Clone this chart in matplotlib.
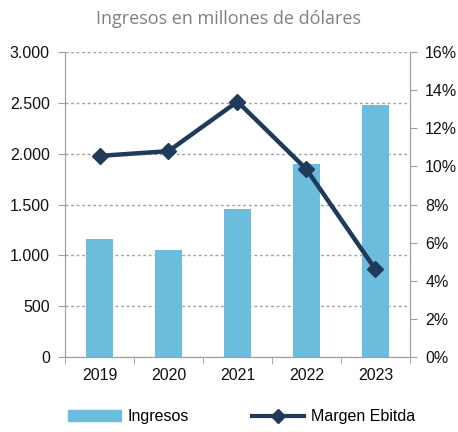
import matplotlib
matplotlib.use("Agg")
import matplotlib.pyplot as plt
from matplotlib.ticker import FuncFormatter, MultipleLocator
from matplotlib.patches import Patch
from matplotlib.lines import Line2D

years = ["2019", "2020", "2021", "2022", "2023"]
ingresos = [1160, 1052, 1455, 1895, 2475]
margen = [10.55, 10.8, 13.4, 9.85, 4.6]

bar_color = "#6BBCDD"
line_color = "#1F3A5A"
axis_color = "#A0A0A0"

fig = plt.figure(figsize=(4.58, 4.32), dpi=100)
ax = fig.add_axes([0.142, 0.1736, 0.753, 0.706])
x = list(range(len(years)))
ax.bar(x, ingresos, width=0.4, color=bar_color, zorder=2)
ax.set_xlim(-0.5, 4.5)
ax.set_ylim(0, 3000)
ax.yaxis.set_major_locator(MultipleLocator(500))
ax.yaxis.set_major_formatter(FuncFormatter(lambda v, p: f"{int(v):,}".replace(",", ".")))
ax.grid(axis="y", linestyle=(0, (2, 2)), color="#A0A0A0", linewidth=1, zorder=0)
ax.set_xticks(x)
ax.set_xticklabels(years)
ax.set_xticks([i - 0.5 for i in range(len(years) + 1)], minor=True)
ax.tick_params(axis="x", which="major", length=0, pad=8)
ax.tick_params(axis="x", which="minor", length=5, color=axis_color)
ax.tick_params(axis="y", length=5, color=axis_color, pad=6)
for s in ["left", "right", "bottom"]:
    ax.spines[s].set_color(axis_color)
ax.spines["top"].set_visible(False)

ax2 = ax.twinx()
ax2.plot(x, margen, color=line_color, linewidth=3.2, marker="D", markersize=8.5, zorder=3)
ax2.set_ylim(0, 16)
ax2.yaxis.set_major_locator(MultipleLocator(2))
ax2.yaxis.set_major_formatter(FuncFormatter(lambda v, p: f"{int(v)}%"))
ax2.tick_params(axis="y", length=5, color=axis_color, pad=6)
for s in ["left", "right", "bottom"]:
    ax2.spines[s].set_color(axis_color)
ax2.spines["top"].set_visible(False)

for a in (ax, ax2):
    for lbl in a.get_xticklabels() + a.get_yticklabels():
        lbl.set_fontfamily("Liberation Sans")
        lbl.set_fontsize(11.5)
        lbl.set_color("#111111")

fig.text(0.5, 0.955, "Ingresos en millones de dólares", ha="center", va="center",
         fontsize=13, color="#808080", fontfamily="Open Sans")

handles = [Patch(color=bar_color, label="Ingresos"),
           Line2D([0], [0], color=line_color, linewidth=3, marker="D", markersize=7, label="Margen Ebitda")]
fig.legend(handles=handles, loc="center", bbox_to_anchor=(0.528, 0.035), ncol=2, frameon=False,
           prop={"family": "Liberation Sans", "size": 11.5}, handlelength=3.3, columnspacing=3.9,
           handletextpad=0.45, handleheight=0.7)

fig.savefig("out.png", dpi=100)
